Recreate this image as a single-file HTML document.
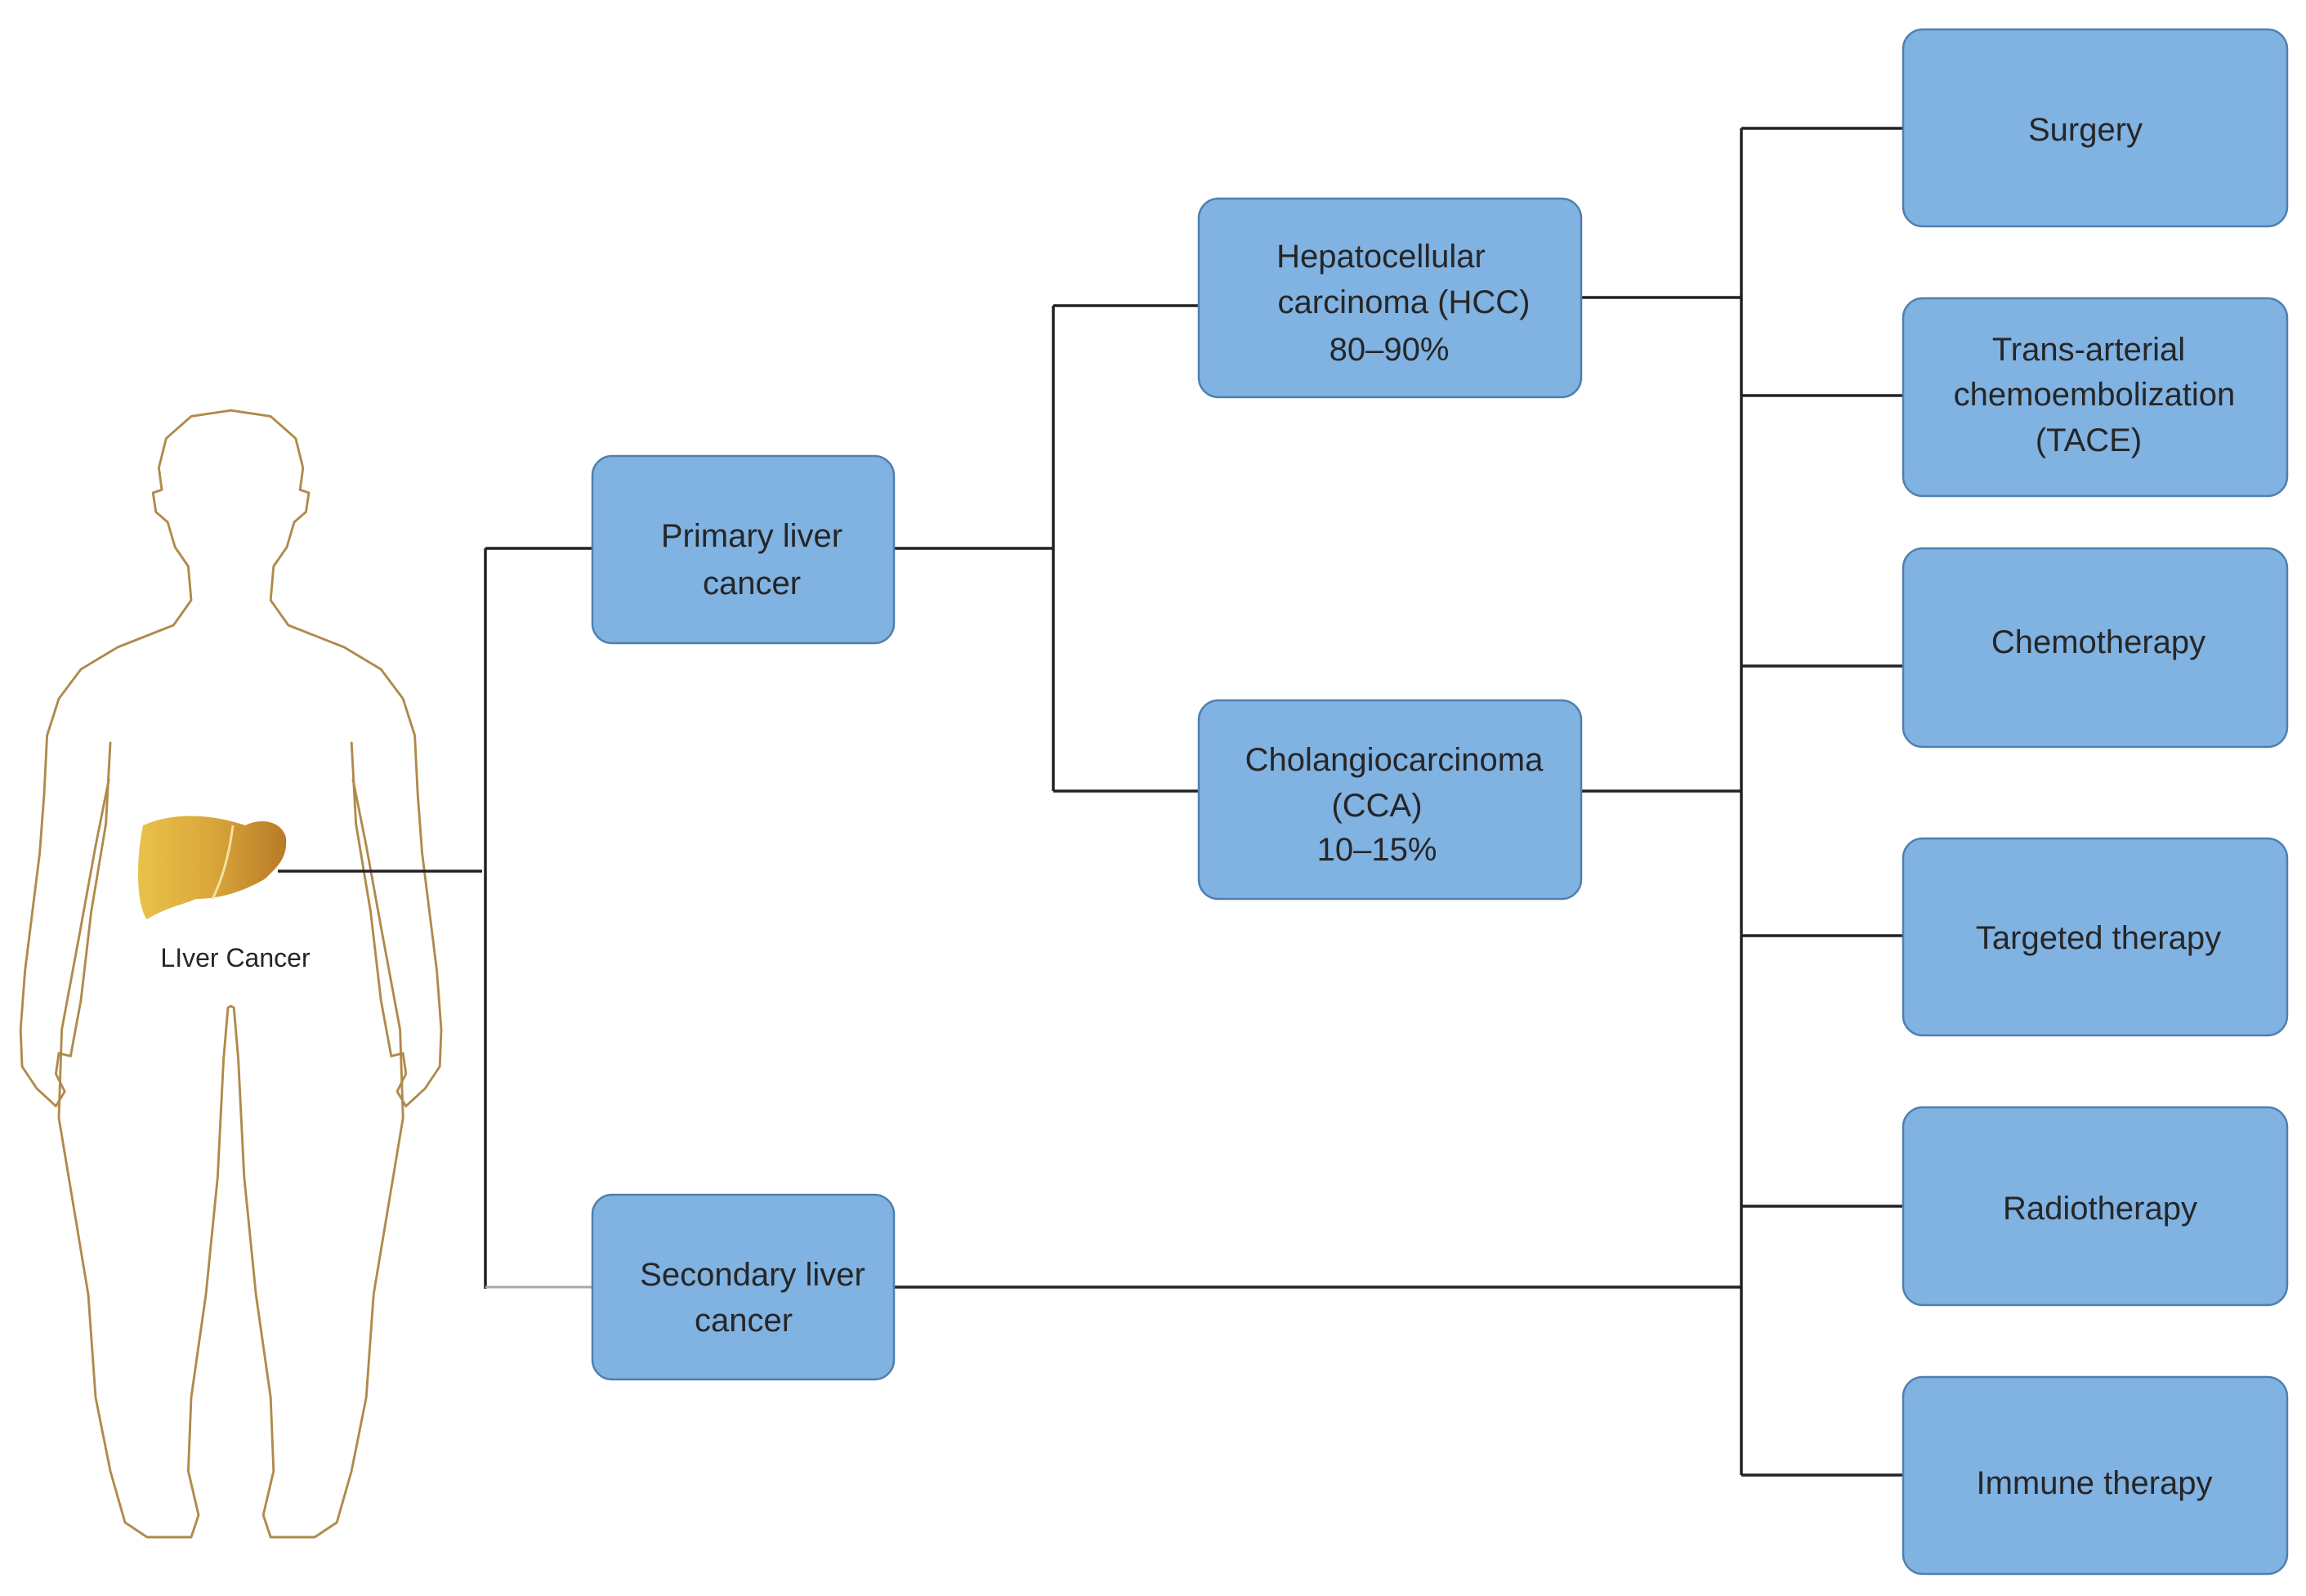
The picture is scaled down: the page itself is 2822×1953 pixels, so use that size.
<!DOCTYPE html>
<html><head><meta charset="utf-8"><style>
html,body{margin:0;padding:0;background:#fff;}
svg{display:block;}
text{font-family:"Liberation Sans",sans-serif;fill:#262626;}
</style></head><body>
<svg width="2822" height="1953" viewBox="0 0 2822 1953" xmlns="http://www.w3.org/2000/svg">
<defs>
<linearGradient id="lv" x1="0" y1="0" x2="1" y2="0">
<stop offset="0" stop-color="#e9c24a"/><stop offset="0.5" stop-color="#d9a63a"/><stop offset="1" stop-color="#b87a28"/>
</linearGradient>
</defs>
<rect width="2822" height="1953" fill="#fff"/>
<!-- body -->
<g transform="scale(1.8)" fill="none" stroke="#b08a4a" stroke-width="1.6" stroke-linejoin="round" stroke-linecap="round">
<g id="half">
<polyline points="157,279 130,283 113,298 108,318 110,333 104,335 106,348 114,355 119,372 128,385 130,408 118,425 80,440 55,455 40,475 32,500 30,540 27,580 22,620 17,660 14,700 15,725 25,740 38,752 44,742 38,730 40,716 48,718 55,680 62,620 72,560 75,505"/>
<polyline points="74,530 65,575 55,630 42,700 40,760 50,820 60,880 65,950 75,1000 85,1035 100,1045 130,1045 135,1030 128,1000 130,950 140,880 148,800 152,720 155,685 157,684"/>
</g>
<use href="#half" transform="translate(314,0) scale(-1,1)"/>
</g>
<!-- liver -->
<path d="M175,1010 C220,990 270,1000 300,1010 C320,1000 345,1005 350,1025 C352,1050 340,1060 325,1075 C300,1090 270,1100 240,1100 C220,1108 200,1112 180,1125 C168,1110 165,1060 175,1010 Z" fill="url(#lv)"/>
<path d="M285,1010 C280,1050 270,1080 260,1100" stroke="#f4e0a0" stroke-width="3" fill="none"/>
<text x="288" y="1183" font-size="32" text-anchor="middle">LIver Cancer</text>
<!-- connectors -->
<g stroke="#222" stroke-width="3.5" fill="none">
<line x1="340" y1="1066" x2="590" y2="1066"/>
<line x1="594" y1="671" x2="594" y2="1577"/>
<line x1="594" y1="671" x2="725" y2="671"/>
<line x1="1094" y1="671" x2="1289" y2="671"/>
<line x1="1289" y1="374" x2="1289" y2="968"/>
<line x1="1289" y1="374" x2="1467" y2="374"/>
<line x1="1289" y1="968" x2="1467" y2="968"/>
<line x1="1935" y1="364" x2="2131" y2="364"/>
<line x1="1935" y1="968" x2="2131" y2="968"/>
<line x1="1094" y1="1575" x2="2131" y2="1575"/>
<line x1="2131" y1="157" x2="2131" y2="1805"/>
<line x1="2131" y1="157" x2="2329" y2="157"/>
<line x1="2131" y1="484" x2="2329" y2="484"/>
<line x1="2131" y1="815" x2="2329" y2="815"/>
<line x1="2131" y1="1145" x2="2329" y2="1145"/>
<line x1="2131" y1="1476" x2="2329" y2="1476"/>
<line x1="2131" y1="1805" x2="2329" y2="1805"/>
</g>
<line x1="594" y1="1575" x2="725" y2="1575" stroke="#aaa" stroke-width="3"/>
<!-- boxes -->
<g fill="#80b2e2" stroke="#4f7fae" stroke-width="2.5">
<rect x="725" y="558" width="369" height="229" rx="24"/>
<rect x="725" y="1462" width="369" height="226" rx="24"/>
<rect x="1467" y="243" width="468" height="243" rx="24"/>
<rect x="1467" y="857" width="468" height="243" rx="24"/>
<rect x="2329" y="36" width="470" height="241" rx="24"/>
<rect x="2329" y="365" width="470" height="242" rx="24"/>
<rect x="2329" y="671" width="470" height="243" rx="24"/>
<rect x="2329" y="1026" width="470" height="241" rx="24"/>
<rect x="2329" y="1355" width="470" height="242" rx="24"/>
<rect x="2329" y="1685" width="470" height="241" rx="24"/>
</g>
<g font-size="40" text-anchor="middle">
<text x="920" y="669">Primary liver</text>
<text x="920" y="727">cancer</text>
<text x="921" y="1573">Secondary liver</text>
<text x="910" y="1629">cancer</text>
<text x="1690" y="327">Hepatocellular</text>
<text x="1718" y="383">carcinoma (HCC)</text>
<text x="1700" y="441">80–90%</text>
<text x="1706" y="943">Cholangiocarcinoma</text>
<text x="1685" y="999">(CCA)</text>
<text x="1685" y="1053">10–15%</text>
<text x="2552" y="172">Surgery</text>
<text x="2556" y="441">Trans-arterial</text>
<text x="2563" y="496">chemoembolization</text>
<text x="2556" y="552">(TACE)</text>
<text x="2568" y="799">Chemotherapy</text>
<text x="2568" y="1161">Targeted therapy</text>
<text x="2570" y="1492">Radiotherapy</text>
<text x="2563" y="1828">Immune therapy</text>
</g>
</svg>
</body></html>
